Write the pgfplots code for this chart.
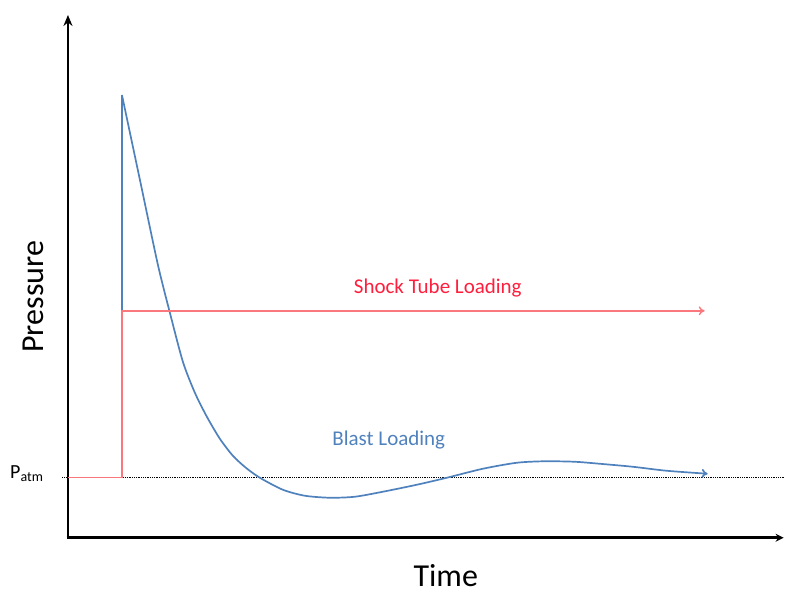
\documentclass[border=0pt]{standalone}
\usepackage{fontspec}
\setmainfont{Carlito}
\usepackage{pgfplots}
\pgfplotsset{compat=1.18}
\usetikzlibrary{arrows.meta}
\definecolor{blastblue}{RGB}{79,129,189}
\definecolor{tubered}{RGB}{250,120,125}
\definecolor{tubetext}{RGB}{255,30,60}
\begin{document}
\begin{tikzpicture}
\begin{axis}[x=1pt,y=1pt,xmin=0,xmax=785,ymin=0,ymax=597,
  hide axis, clip=false, scale only axis]
\path (rel axis cs:0,0) rectangle (rel axis cs:1,1);
% axes
\addplot[black, line width=2.6pt, -{Stealth[length=11pt,width=9pt]}] coordinates {(68,59) (68,582)};
\addplot[black, line width=2.6pt, -{Stealth[length=8pt,width=8pt]}] coordinates {(66.7,59) (784,59)};
% Patm dotted line
\addplot[black, line width=0.8pt, densely dotted] coordinates {(62,119) (785,119)};
% blast loading
\addplot[blastblue, line width=1.7pt] coordinates {(122,119) (122,502)};
\addplot[blastblue, line width=1.7pt, smooth, tension=0.45, -{To[length=6pt,width=9pt]}] coordinates {
(122,502) (140,417) (158,332) (170,284) (183,235) (195,204) (207,180) (220,158)
(233,141) (246,129) (260,119) (283,107) (305,101) (330,99) (355,100) (383,105)
(417,112) (447,119) (483,128) (517,134) (545,135.5) (575,135) (600,133)
(633,130) (667,126) (708,123)};
% shock tube loading
\addplot[tubered, line width=1.4pt, -{To[length=6pt,width=9pt]}] coordinates {(68,119) (122,119) (122,286) (705,286)};
% labels
\node[rotate=90, anchor=base, inner sep=0pt, font=\fontsize{32}{34}\selectfont] at (axis cs:44,300) {Pressure};
\node[anchor=base, inner sep=0pt, font=\fontsize{32}{34}\selectfont] at (axis cs:446,10) {Time};
\node[text=tubetext, font=\fontsize{21}{22}\selectfont] at (axis cs:438,309) {Shock Tube Loading};
\node[text=blastblue, font=\fontsize{21}{22}\selectfont] at (axis cs:389,157) {Blast Loading};
\node[anchor=base west, inner sep=0pt, font=\fontsize{20}{21}\selectfont] at (axis cs:10,118) {P\textsubscript{atm}};
\end{axis}
\end{tikzpicture}
\end{document}
